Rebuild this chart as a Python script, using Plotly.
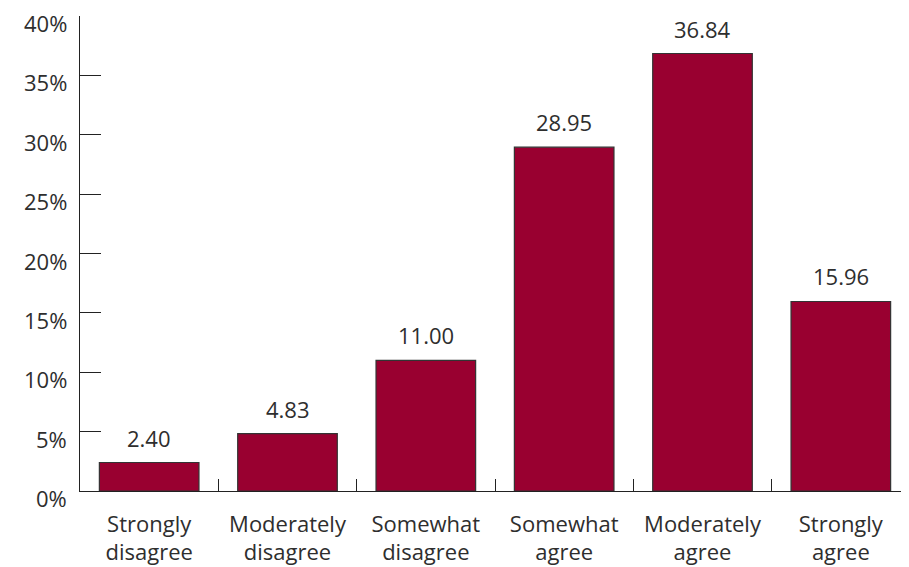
import plotly.graph_objects as go

categories = ["Strongly<br>disagree", "Moderately<br>disagree", "Somewhat<br>disagree",
              "Somewhat<br>agree", "Moderately<br>agree", "Strongly<br>agree"]
values = [2.40, 4.83, 11.00, 28.95, 36.84, 15.96]
y_ticks = [0, 5, 10, 15, 20, 25, 30, 35, 40]
y_tick_labels = [f"{t}%" for t in y_ticks]

FONT = "Open Sans"
TXT = "#2e2e2e"

fig = go.Figure()
fig.add_trace(go.Bar(
    x=categories, y=values,
    marker=dict(color="#990030", line=dict(color="#333333", width=1.2)),
    width=0.72,
    hoverinfo="skip",
))

for c, v in zip(categories, values):
    fig.add_annotation(x=c, y=v, text=f"{v:.2f}", showarrow=False,
                       yanchor="bottom", yshift=8,
                       font=dict(family=FONT, size=22, color=TXT))

# y tick labels, set slightly below each tick as in the reference
for t, lab in zip(y_ticks, y_tick_labels):
    fig.add_annotation(x=0, xref="paper", y=t, yref="y", text=lab,
                       showarrow=False, xanchor="right", yanchor="middle",
                       xshift=-11, yshift=-7,
                       font=dict(family=FONT, size=22, color=TXT))

fig.update_layout(
    width=909, height=567,
    margin=dict(l=72, r=7, t=8, b=84),
    paper_bgcolor="white", plot_bgcolor="white",
    showlegend=False,
    font=dict(family=FONT, size=22, color=TXT),
    xaxis=dict(
        type="category",
        automargin=False,
        showline=True, linecolor="#222222", linewidth=1.2,
        tickson="boundaries", ticks="inside", ticklen=12,
        tickcolor="#222222", tickwidth=1.2,
        showgrid=False, zeroline=False,
        ticklabelstandoff=13,
        tickfont=dict(family=FONT, size=22, color=TXT),
        range=[-0.5, 5.5],
    ),
    yaxis=dict(
        range=[0, 40],
        automargin=False,
        tickvals=y_ticks,
        showticklabels=False,
        showline=True, linecolor="#222222", linewidth=1.2,
        ticks="inside", ticklen=21, tickcolor="#222222", tickwidth=1.2,
        showgrid=False, zeroline=False,
    ),
)

fig.write_html("out.html")
